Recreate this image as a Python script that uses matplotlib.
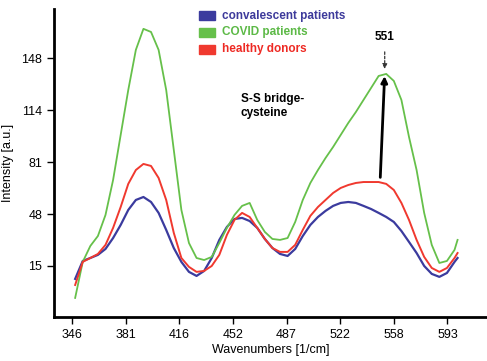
import numpy as np
import matplotlib.pyplot as plt
from matplotlib.patches import Rectangle

plt.rcParams['font.family'] = ['Liberation Sans', 'DejaVu Sans']

# wavenumbers [1/cm]
wavenumbers = [348, 353, 358, 363, 368, 373, 378, 383, 388, 393, 398, 403, 408,
               413, 418, 423, 428, 433, 438, 443, 448, 453, 458, 463, 468, 473,
               478, 483, 488, 493, 498, 503, 508, 513, 518, 523, 528, 533, 538,
               543, 548, 553, 558, 563, 568, 573, 578, 583, 588, 593, 598, 600]

covid = [-5.5, 17.6, 27.8, 34.2, 47.7, 70.1, 99.0, 127.8, 153.5, 167.0, 165.0,
         153.5, 127.8, 89.4, 50.9, 29.7, 20.1, 18.8, 20.8, 29.7, 39.4, 47.7,
         53.5, 55.4, 44.5, 36.8, 32.3, 31.7, 32.9, 43.2, 57.3, 68.2, 76.5,
         84.2, 91.3, 99.0, 106.7, 113.7, 121.4, 129.1, 136.8, 138.1, 133.6,
         121.4, 97.7, 76.5, 49.0, 28.5, 16.9, 18.2, 25.3, 31.7]

healthy = [2.8, 17.6, 20.1, 22.7, 28.5, 39.4, 52.8, 67.6, 76.5, 80.4, 79.1,
           71.4, 57.3, 36.2, 20.1, 14.4, 11.2, 11.8, 15.0, 22.1, 34.9, 44.5,
           49.0, 46.4, 39.4, 32.3, 26.5, 24.0, 24.0, 28.5, 38.1, 47.1, 52.8,
           57.3, 61.8, 65.0, 66.9, 68.2, 68.8, 68.8, 68.8, 67.6, 63.7, 55.4,
           44.5, 31.7, 20.8, 13.7, 11.2, 13.7, 20.1, 23.3]

convalescent = [6.7, 18.2, 20.1, 22.1, 25.9, 32.9, 41.3, 50.9, 57.3, 59.2, 56.0,
                49.0, 38.1, 26.5, 17.6, 11.2, 8.6, 11.8, 20.1, 31.7, 40.0, 45.1,
                45.8, 43.8, 39.4, 32.3, 26.5, 22.7, 21.4, 25.9, 34.2, 41.3, 46.4,
                50.3, 53.5, 55.4, 56.0, 55.4, 53.5, 51.5, 49.0, 46.4, 43.2, 37.4,
                30.4, 23.3, 15.0, 9.9, 8.0, 10.5, 17.6, 20.1]

xticks = [346, 381.33, 416.67, 452, 487.33, 522.67, 558, 593.33]
xtick_labels = ['346', '381', '416', '452', '487', '522', '558', '593']
yticks = [15, 48.25, 81.5, 114.75, 148]
ytick_labels = ['15', '48', '81', '114', '148']

series_names = ['convalescent patients', 'COVID patients', 'healthy donors']
line_colors = ['#3b3b9e', '#66c04a', '#f0392f']
text_colors = ['#3d3a9b', '#5cb946', '#ee2a24']

fig = plt.figure(figsize=(4.87, 3.61), dpi=100)
ax = fig.add_axes([0.111, 0.122, 0.889, 0.853])

ax.plot(wavenumbers, convalescent, color=line_colors[0], lw=1.6)
ax.plot(wavenumbers, covid, color=line_colors[1], lw=1.3)
ax.plot(wavenumbers, healthy, color=line_colors[2], lw=1.4)

ax.set_xlim(334.1, 619.4)
ax.set_ylim(-17.7, 179.7)
ax.set_xticks(xticks)
ax.set_xticklabels(xtick_labels)
ax.set_yticks(yticks)
ax.set_yticklabels(ytick_labels)
ax.tick_params(labelsize=9, length=5, width=1, direction='out')

for s in ['top', 'right']:
    ax.spines[s].set_visible(False)
for s in ['left', 'bottom']:
    ax.spines[s].set_linewidth(2)

ax.set_xlabel('Wavenumbers [1/cm]', fontsize=9, labelpad=2)
ax.set_ylabel('Intensity [a.u.]', fontsize=9, labelpad=5)

# legend built by hand: colored boxes and colored bold text
for i, (name, c, tc) in enumerate(zip(series_names, line_colors, text_colors)):
    yc = 0.957 - i * 0.047
    fig.patches.append(Rectangle((199 / 487, yc - 0.013), 16 / 487, 0.026,
                                 transform=fig.transFigure, color=c))
    fig.text(222 / 487, yc, name, color=tc, fontsize=8.5, fontweight='bold',
             va='center', ha='left')

# peak annotation
ax.annotate('', xy=(552, 139.5), xytext=(552, 154),
            arrowprops=dict(arrowstyle='-|>', linestyle=(0, (2, 1.5)),
                            color='#333333', lw=0.9, mutation_scale=7))
ax.text(552, 158, '551', fontsize=8.5, fontweight='bold', ha='center',
        va='bottom')
ax.annotate('', xy=(552, 138.5), xytext=(549, 70),
            arrowprops=dict(arrowstyle='-|>', color='black', lw=2,
                            mutation_scale=9))
ax.text(0.431, 0.685, 'S-S bridge-\ncysteine', transform=ax.transAxes,
        fontsize=8.5, fontweight='bold', ha='left', va='center',
        linespacing=1.15)

fig.savefig('out.png', dpi=100)
